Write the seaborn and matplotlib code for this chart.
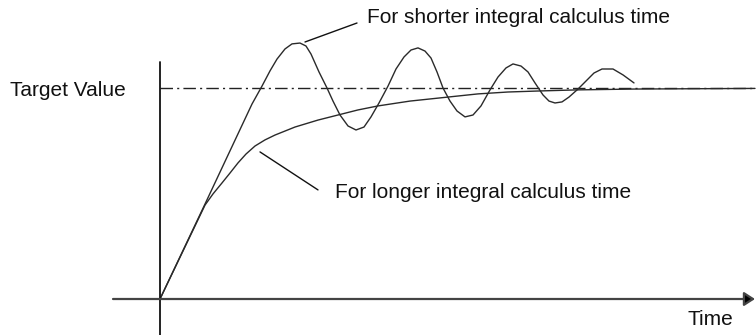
import matplotlib
matplotlib.use("Agg")
import matplotlib.pyplot as plt
import seaborn as sns
import pandas as pd

# Response to a step change, normalised so the target value is 1.0
t_short = [0, 0.45, 0.68, 0.92, 1.02, 1.10, 1.17, 1.25, 1.32, 1.40, 1.46,
           1.51, 1.59, 1.67, 1.73, 1.80, 1.88, 1.96, 2.04, 2.11, 2.19, 2.28,
           2.36, 2.44, 2.51, 2.58, 2.65, 2.71, 2.77, 2.83, 2.90, 2.97, 3.05,
           3.13, 3.21, 3.30, 3.38, 3.46, 3.53, 3.61, 3.68, 3.75, 3.83, 3.89,
           3.95, 4.02, 4.09, 4.18, 4.26, 4.34, 4.42, 4.53, 4.63, 4.74]
y_short = [0, 0.450, 0.682, 0.924, 1.009, 1.081, 1.137, 1.185, 1.209, 1.213,
           1.199, 1.161, 1.076, 1.0, 0.938, 0.872, 0.820, 0.801, 0.815, 0.863,
           0.929, 1.009, 1.090, 1.147, 1.180, 1.190, 1.175, 1.142, 1.076, 1.0,
           0.938, 0.891, 0.863, 0.872, 0.915, 0.991, 1.052, 1.095, 1.114,
           1.104, 1.076, 1.024, 0.967, 0.938, 0.929, 0.934, 0.957, 0.995,
           1.033, 1.071, 1.090, 1.090, 1.062, 1.024]

t_long = [0, 0.45, 0.53, 0.62, 0.70, 0.78, 0.86, 0.95, 1.05, 1.15, 1.25, 1.35,
          1.58, 1.78, 1.98, 2.18, 2.50, 2.88, 3.18, 3.48, 3.80, 4.17, 4.74,
          5.95]
y_long = [0, 0.445, 0.498, 0.550, 0.597, 0.645, 0.687, 0.725, 0.754, 0.777,
          0.796, 0.815, 0.848, 0.872, 0.896, 0.915, 0.938, 0.957, 0.972,
          0.981, 0.986, 0.991, 0.995, 0.998]

target = 1.0
t_end = 5.95

label_target = "Target Value"
label_short = "For shorter integral calculus time"
label_long = "For longer integral calculus time"
label_time = "Time"

sns.set_style("white")
plt.rcParams["font.family"] = ["Liberation Sans", "DejaVu Sans"]

fig = plt.figure(figsize=(7.56, 3.35), dpi=100)
ax = fig.add_axes([0, 0, 1, 1])
ax.set_xlim(-1.60, 5.96)
ax.set_ylim(-0.1706, 1.417)
ax.axis("off")

df_short = pd.DataFrame({"t": t_short, "y": y_short})
df_long = pd.DataFrame({"t": t_long, "y": y_long})

# target value reference line
ax.plot([0.0, t_end], [target, target], color="#222222", lw=1.0,
        dashes=(9, 3, 1.5, 3))

sns.lineplot(data=df_long, x="t", y="y", ax=ax, sort=False, estimator=None,
             color="#2a2a2a", lw=1.0)
sns.lineplot(data=df_short, x="t", y="y", ax=ax, sort=False, estimator=None,
             color="#2a2a2a", lw=1.0)

# axes drawn by hand: vertical value axis and horizontal time arrow
ax.plot([0, 0], [-0.18, 1.123], color="#111111", lw=1.3)
ax.annotate("", xy=(t_end, 0), xytext=(-0.47, 0),
            arrowprops=dict(arrowstyle="-|>,head_length=0.65,head_width=0.42",
                            mutation_scale=10, lw=1.6, color="#444444",
                            fc="black", ec="#444444", shrinkA=0, shrinkB=0))

fs = 15
ax.text(-1.50, 0.960, label_target, fontsize=fs, ha="left", va="baseline",
        color="#111111")
ax.text(2.07, 1.308, label_short, fontsize=fs, ha="left", va="baseline",
        color="#111111")
ax.text(1.75, 0.479, label_long, fontsize=fs, ha="left", va="baseline",
        color="#111111")
ax.text(5.27, -0.123, label_time, fontsize=fs, ha="left", va="baseline",
        color="#111111")

# leader lines from labels to their curves
ax.plot([1.45, 1.97], [1.218, 1.308], color="#111111", lw=1.0)
ax.plot([1.00, 1.58], [0.697, 0.517], color="#111111", lw=1.0)

fig.savefig("out.png", dpi=100)
